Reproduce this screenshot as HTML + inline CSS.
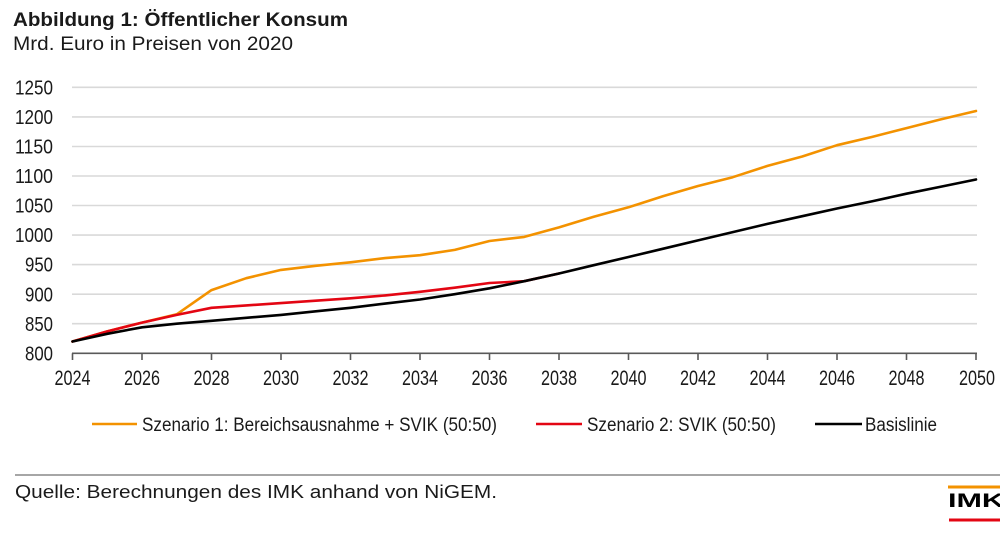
<!DOCTYPE html>
<html>
<head>
<meta charset="utf-8">
<style>
  html, body { margin: 0; padding: 0; background: #ffffff; }
  body { width: 1000px; height: 537px; overflow: hidden; }
  svg { display: block; }
  text { font-family: "Liberation Sans", Arial, sans-serif; fill: #1a1a1a; }
</style>
</head>
<body>
<svg width="1000" height="537" viewBox="0 0 1000 537" xmlns="http://www.w3.org/2000/svg">
  <!-- Title -->
  <text x="13" y="26" font-size="19" font-weight="bold" textLength="335" lengthAdjust="spacingAndGlyphs">Abbildung 1: Öffentlicher Konsum</text>
  <text x="13" y="50" font-size="19" textLength="280" lengthAdjust="spacingAndGlyphs">Mrd. Euro in Preisen von 2020</text>

  <!-- Gridlines -->
  <g stroke="#d9d9d9" stroke-width="1.6">
    <line x1="72" y1="87.3" x2="977" y2="87.3"/>
    <line x1="72" y1="116.9" x2="977" y2="116.9"/>
    <line x1="72" y1="146.5" x2="977" y2="146.5"/>
    <line x1="72" y1="176.0" x2="977" y2="176.0"/>
    <line x1="72" y1="205.5" x2="977" y2="205.5"/>
    <line x1="72" y1="235.1" x2="977" y2="235.1"/>
    <line x1="72" y1="264.6" x2="977" y2="264.6"/>
    <line x1="72" y1="294.2" x2="977" y2="294.2"/>
    <line x1="72" y1="323.7" x2="977" y2="323.7"/>
  </g>
  <!-- X axis -->
  <line x1="72" y1="353.3" x2="977" y2="353.3" stroke="#595959" stroke-width="1.6"/>
  <g stroke="#595959" stroke-width="1.6">
    <line x1="72.5" y1="353.3" x2="72.5" y2="360"/>
    <line x1="142" y1="353.3" x2="142" y2="360"/>
    <line x1="211.5" y1="353.3" x2="211.5" y2="360"/>
    <line x1="281" y1="353.3" x2="281" y2="360"/>
    <line x1="350.5" y1="353.3" x2="350.5" y2="360"/>
    <line x1="420" y1="353.3" x2="420" y2="360"/>
    <line x1="489.5" y1="353.3" x2="489.5" y2="360"/>
    <line x1="559" y1="353.3" x2="559" y2="360"/>
    <line x1="628.5" y1="353.3" x2="628.5" y2="360"/>
    <line x1="698" y1="353.3" x2="698" y2="360"/>
    <line x1="767.5" y1="353.3" x2="767.5" y2="360"/>
    <line x1="837" y1="353.3" x2="837" y2="360"/>
    <line x1="906.5" y1="353.3" x2="906.5" y2="360"/>
    <line x1="976" y1="353.3" x2="976" y2="360"/>
  </g>

  <!-- Y labels -->
  <g font-size="20" text-anchor="end" lengthAdjust="spacingAndGlyphs">
    <text x="53" y="94.5" textLength="38" lengthAdjust="spacingAndGlyphs">1250</text>
    <text x="53" y="124" textLength="38" lengthAdjust="spacingAndGlyphs">1200</text>
    <text x="53" y="153.6" textLength="38" lengthAdjust="spacingAndGlyphs">1150</text>
    <text x="53" y="183.1" textLength="38" lengthAdjust="spacingAndGlyphs">1100</text>
    <text x="53" y="212.6" textLength="38" lengthAdjust="spacingAndGlyphs">1050</text>
    <text x="53" y="242.2" textLength="38" lengthAdjust="spacingAndGlyphs">1000</text>
    <text x="53" y="271.7" textLength="28" lengthAdjust="spacingAndGlyphs">950</text>
    <text x="53" y="301.3" textLength="28" lengthAdjust="spacingAndGlyphs">900</text>
    <text x="53" y="330.8" textLength="28" lengthAdjust="spacingAndGlyphs">850</text>
    <text x="53" y="360.4" textLength="28" lengthAdjust="spacingAndGlyphs">800</text>
  </g>

  <!-- X labels -->
  <g font-size="21">
    <text x="54.5" y="385" textLength="36" lengthAdjust="spacingAndGlyphs">2024</text>
    <text x="124" y="385" textLength="36" lengthAdjust="spacingAndGlyphs">2026</text>
    <text x="193.5" y="385" textLength="36" lengthAdjust="spacingAndGlyphs">2028</text>
    <text x="263" y="385" textLength="36" lengthAdjust="spacingAndGlyphs">2030</text>
    <text x="332.5" y="385" textLength="36" lengthAdjust="spacingAndGlyphs">2032</text>
    <text x="402" y="385" textLength="36" lengthAdjust="spacingAndGlyphs">2034</text>
    <text x="471.5" y="385" textLength="36" lengthAdjust="spacingAndGlyphs">2036</text>
    <text x="541" y="385" textLength="36" lengthAdjust="spacingAndGlyphs">2038</text>
    <text x="610.5" y="385" textLength="36" lengthAdjust="spacingAndGlyphs">2040</text>
    <text x="680" y="385" textLength="36" lengthAdjust="spacingAndGlyphs">2042</text>
    <text x="749.5" y="385" textLength="36" lengthAdjust="spacingAndGlyphs">2044</text>
    <text x="819" y="385" textLength="36" lengthAdjust="spacingAndGlyphs">2046</text>
    <text x="888.5" y="385" textLength="36" lengthAdjust="spacingAndGlyphs">2048</text>
    <text x="959" y="385" textLength="36" lengthAdjust="spacingAndGlyphs">2050</text>
  </g>

  <!-- Series -->
  <g fill="none" stroke-width="2.6" stroke-linejoin="round" stroke-linecap="round">
    <polyline stroke="#f39200" points="72.5,341.5 107.25,331.4 142,322.6 176.75,314.3 211.5,290.1 246.25,278.2 281,269.9 315.75,265.8 350.5,262.3 385.25,258.1 420,255.2 454.75,249.9 489.5,241.0 524.25,236.9 559,227.4 593.75,216.8 628.5,207.3 663.25,196.1 698,186.0 732.75,177.2 767.5,165.9 802.25,156.5 837,145.2 871.75,137.0 906.5,128.1 941.25,119.2 976,111.0"/>
    <polyline stroke="#e30613" points="72.5,341.5 107.25,331.4 142,322.6 176.75,314.9 211.5,307.8 246.25,305.4 281,303.1 315.75,300.7 350.5,298.3 385.25,295.4 420,291.8 454.75,287.7 489.5,283.0 524.25,281.2 559,273.5"/>
    <polyline stroke="#000000" points="72.5,341.5 107.25,333.8 142,327.3 176.75,323.7 211.5,320.8 246.25,317.8 281,314.9 315.75,311.3 350.5,307.8 385.25,303.6 420,299.5 454.75,294.2 489.5,288.3 524.25,281.2 559,273.5 593.75,265.2 628.5,257.0 663.25,248.7 698,240.4 732.75,232.1 767.5,223.9 802.25,216.2 837,208.5 871.75,201.4 906.5,193.7 941.25,186.6 976,179.5"/>
  </g>

  <!-- Legend -->
  <line x1="92" y1="424" x2="137" y2="424" stroke="#f39200" stroke-width="2.6"/>
  <text x="142" y="431" font-size="19" textLength="355" lengthAdjust="spacingAndGlyphs">Szenario 1: Bereichsausnahme + SVIK (50:50)</text>
  <line x1="536" y1="424" x2="582" y2="424" stroke="#e30613" stroke-width="2.6"/>
  <text x="587" y="431" font-size="19" textLength="189" lengthAdjust="spacingAndGlyphs">Szenario 2: SVIK (50:50)</text>
  <line x1="815" y1="424" x2="862" y2="424" stroke="#000000" stroke-width="2.6"/>
  <text x="865" y="431" font-size="19" textLength="72" lengthAdjust="spacingAndGlyphs">Basislinie</text>

  <!-- Separator -->
  <line x1="15" y1="475" x2="1000" y2="475" stroke="#a6a6a6" stroke-width="2"/>
  <text x="15" y="498" font-size="18" textLength="482" lengthAdjust="spacingAndGlyphs">Quelle: Berechnungen des IMK anhand von NiGEM.</text>

  <!-- IMK logo -->
  <rect x="948" y="485.5" width="52" height="3" fill="#f39200"/>
  <text x="948" y="507" font-size="19" font-weight="bold" textLength="56" lengthAdjust="spacingAndGlyphs" style="fill:#000">IMK</text>
  <rect x="949" y="518.5" width="51" height="3" fill="#e30613"/>
</svg>
</body>
</html>
